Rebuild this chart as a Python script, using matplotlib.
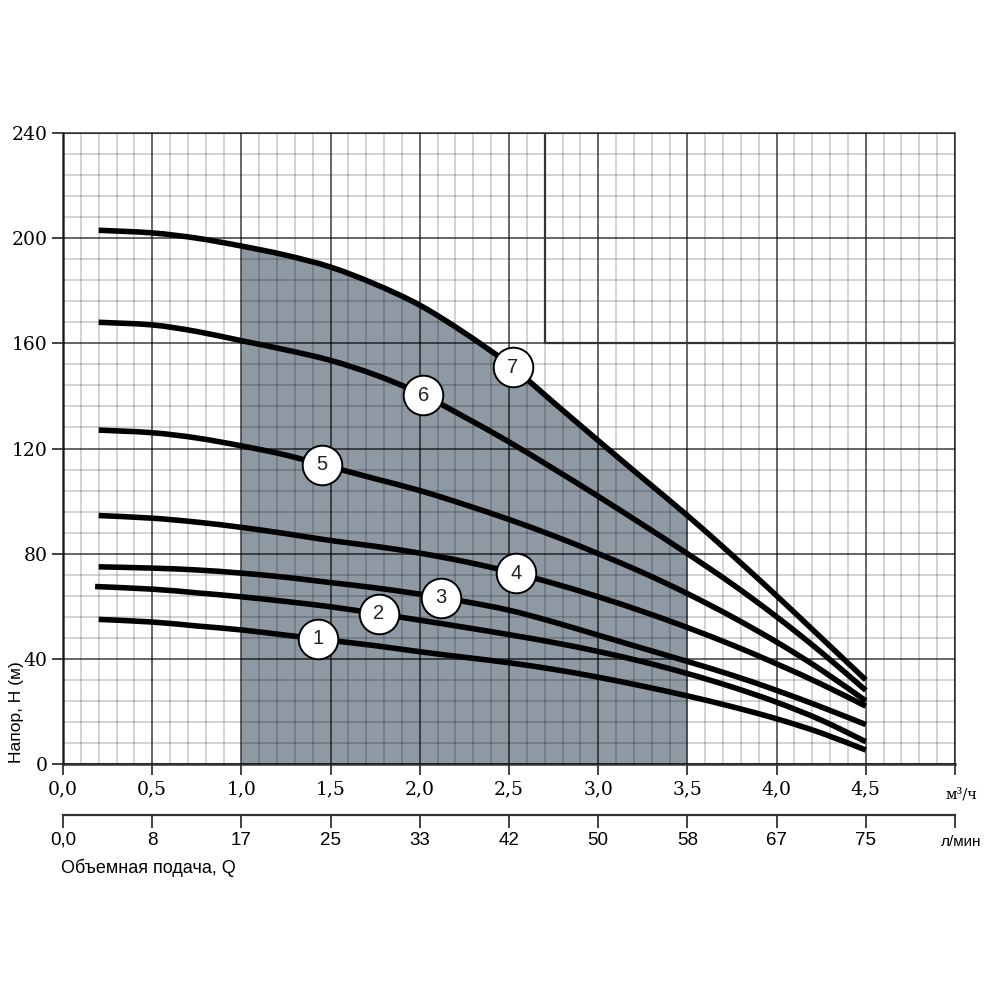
import numpy as np
import matplotlib
matplotlib.use("Agg")
import matplotlib.pyplot as plt
from matplotlib.path import Path
from matplotlib.patches import PathPatch

# ---- data ----
q_m3h = [0.2, 0.5, 0.75, 1.0, 1.25, 1.5, 1.75, 2.0, 2.25, 2.5, 2.75, 3.0,
         3.25, 3.5, 3.75, 4.0, 4.25, 4.5]
head_1 = [55, 54, 52.5, 51, 49, 47, 45, 42.7, 40.6, 38.5, 36, 33,
          29.6, 25.9, 21.8, 17.2, 11.8, 5.3]
head_2 = [67.5, 66.5, 65.1, 63.6, 61.8, 59.8, 57.3, 54.7, 52, 49.2, 46.2,
          42.8, 38.9, 34.4, 29.3, 23.5, 16.7, 8.5]
head_3 = [75, 74.5, 73.8, 72.6, 71, 69, 67, 64.6, 61.8, 58.5, 54, 49,
          44, 39, 33.8, 28, 21.7, 15]
head_4 = [94.5, 93.5, 92, 90, 87.6, 85, 82.8, 80.2, 77, 73.2, 68.7, 63.6,
          58, 51.9, 45.3, 38.1, 30.4, 22]
head_5 = [127, 126, 124, 121, 117.5, 113, 108.5, 104, 98.7, 93, 86.8,
          80, 72.8, 64.8, 56, 46.4, 35.8, 24]
head_6 = [168, 167, 164.5, 161, 157.5, 153.5, 148, 141, 132, 122.5, 112.3,
          101.8, 91, 80, 68.5, 56, 42.5, 28]
head_7 = [203, 202, 200, 197, 193.5, 189, 182.5, 174.5, 164, 152, 137.5,
          123, 108.7, 94.5, 79.5, 64, 48, 32]
curves = [head_1, head_2, head_3, head_4, head_5, head_6, head_7]
curve_labels = ["1", "2", "3", "4", "5", "6", "7"]
label_q = [1.43, 1.77, 2.12, 2.54, 1.45, 2.02, 2.52]

work_range = [1.0, 3.5]          # shaded operating range, m3/h
x_ticks = [0.0, 0.5, 1.0, 1.5, 2.0, 2.5, 3.0, 3.5, 4.0, 4.5, 5.0]
x_ticklabels = ["0,0", "0,5", "1,0", "1,5", "2,0", "2,5", "3,0", "3,5",
                "4,0", "4,5", ""]
lmin_ticklabels = ["0,0", "8", "17", "25", "33", "42", "50", "58", "67",
                   "75", ""]
y_ticks = [0, 40, 80, 120, 160, 200, 240]
y_ticklabels = ["0", "40", "80", "120", "160", "200", "240"]

SERIF = "DejaVu Serif"
SANS = "Liberation Sans"


def smooth_segments(xs, ys):
    """Catmull-Rom -> cubic Bezier vertices/codes through the given points."""
    p = np.column_stack([xs, ys]).astype(float)
    n = len(p)
    verts = [p[0]]
    codes = [Path.MOVETO]
    for i in range(n - 1):
        p0 = p[i - 1] if i > 0 else p[i]
        p1, p2 = p[i], p[i + 1]
        p3 = p[i + 2] if i + 2 < n else p[i + 1]
        c1 = p1 + (p2 - p0) / 6.0
        c2 = p2 - (p3 - p1) / 6.0
        verts += [c1, c2, p2]
        codes += [Path.CURVE4] * 3
    return verts, codes


fig = plt.figure(figsize=(10, 10), dpi=100)
ax = fig.add_axes([0.063, 0.236, 0.892, 0.631])
ax.set_xlim(0, 5.0)
ax.set_ylim(0, 240)

# grid
ax.set_xticks(x_ticks)
ax.set_xticks(np.arange(0, 5.0001, 0.1), minor=True)
ax.set_yticks(y_ticks)
ax.set_yticks(np.arange(0, 240.001, 8), minor=True)
ax.set_axisbelow(False)
ax.grid(which="minor", color="black", alpha=0.22, lw=1.1)
ax.grid(which="major", color="black", alpha=0.70, lw=1.2)

ax.set_xticklabels(x_ticklabels, fontfamily=SERIF, fontsize=13.5)
ax.set_yticklabels(y_ticklabels, fontfamily=SERIF, fontsize=13.5)
ax.tick_params(which="minor", length=0)
ax.tick_params(axis="x", which="major", length=8, width=1.3, pad=4,
               color="#333333")
ax.tick_params(axis="y", which="major", length=8, width=1.3, pad=3,
               color="#333333")

for s in ["left", "bottom"]:
    ax.spines[s].set_linewidth(1.8)
    ax.spines[s].set_color("#333333")
for s in ["top", "right"]:
    ax.spines[s].set_linewidth(1.3)
    ax.spines[s].set_color("#555555")

# shaded operating range under curve 7 (following the smooth curve)
q = np.array(q_m3h)
h7 = np.array(head_7)
i0 = int(np.argmin(np.abs(q - work_range[0])))
i1 = int(np.argmin(np.abs(q - work_range[1])))
v7, c7 = smooth_segments(q, h7)
sub_v = v7[3 * i0: 3 * i1 + 1]
fill_verts = [(q[i0], 0.0)] + [tuple(v) for v in sub_v] + [(q[i1], 0.0),
                                                             (q[i0], 0.0)]
fill_codes = ([Path.MOVETO, Path.LINETO] + [Path.CURVE4] * (len(sub_v) - 1)
              + [Path.LINETO, Path.CLOSEPOLY])
ax.add_patch(PathPatch(Path(fill_verts, fill_codes), facecolor="#8e99a4",
                       edgecolor="none", zorder=1))

# top-right box outline
ax.plot([2.7, 2.7, 5.0], [240, 160, 160], color="#333333", lw=1.6,
        zorder=2.6)

# curves
for i, h in enumerate(curves):
    qq = list(q_m3h)
    if i == 1:
        qq[0] = 0.18
    verts, codes = smooth_segments(qq, h)
    ax.add_patch(PathPatch(Path(verts, codes), facecolor="none",
                           edgecolor="black", lw=4.0, capstyle="butt",
                           joinstyle="round", zorder=3))

# numbered circles
for h, lab, xq in zip(curves, curve_labels, label_q):
    yq = np.interp(xq, q_m3h, h)
    ax.plot([xq], [yq], marker="o", ms=28.5, mfc="white", mec="black",
            mew=1.4, zorder=4)
    ax.text(xq, yq, lab, ha="center", va="center", fontsize=14.5,
            fontfamily=SANS, color="#222222", zorder=5)

# secondary axis in l/min
sec = ax.secondary_xaxis(-51 / 631)
sec.set_xticks(x_ticks)
sec.set_xticklabels(lmin_ticklabels, fontfamily=SANS, fontsize=13.5)
sec.tick_params(length=9, width=1.3, pad=3, color="#333333")
sec.spines["bottom"].set_linewidth(1.6)
sec.spines["bottom"].set_color("#333333")

# unit labels and axis titles
fig.text(0.961, 0.205, "м³/ч", ha="center", va="center", fontsize=10.5,
         fontfamily=SERIF)
fig.text(0.961, 0.158, "л/мин", ha="center", va="center", fontsize=11,
         fontfamily=SANS)
fig.text(0.061, 0.132, "Объемная подача, Q", ha="left", va="center",
         fontsize=13, fontfamily=SANS)
fig.text(0.017, 0.288, "Напор, H (м)", ha="center", va="center",
         rotation=90, fontsize=12.5, fontfamily=SANS)

fig.savefig("out.png", dpi=100, facecolor="white")
